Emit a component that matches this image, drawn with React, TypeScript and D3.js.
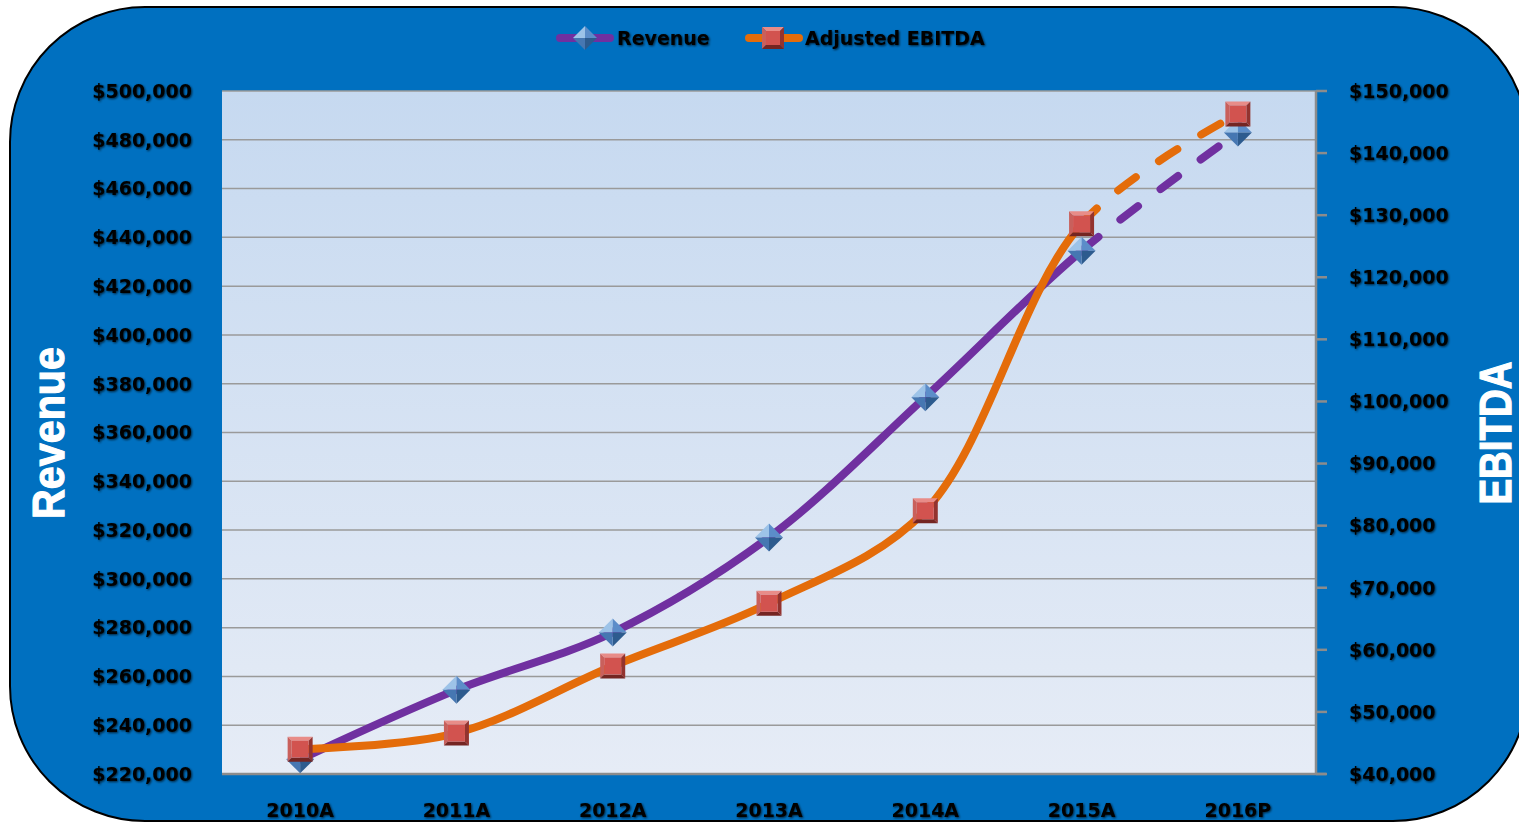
import React, { useEffect, useRef, useState } from 'react'
import * as d3 from 'd3'

const years = ['2010A', '2011A', '2012A', '2013A', '2014A', '2015A', '2016P']
const revenue = [226000, 254500, 278000, 317000, 374500, 434500, 483000]
const ebitda = [44000, 46600, 57400, 67500, 82400, 128600, 146300]
const revenueTicks = [220000, 240000, 260000, 280000, 300000, 320000, 340000, 360000, 380000, 400000, 420000, 440000, 460000, 480000, 500000]
const ebitdaTicks = [40000, 50000, 60000, 70000, 80000, 90000, 100000, 110000, 120000, 130000, 140000, 150000]

const W = 1519
const H = 822
const plot = { left: 222, right: 1316, top: 91, bottom: 774 }
const labelFont = '"DejaVu Sans", Verdana, sans-serif'
const titleFont = '"Liberation Sans", Arial, sans-serif'
const purple = '#7030A0'
const orange = '#E46C0A'

function Diamond({ x, y, h = 14 }: { x: number; y: number; h?: number }) {
  return (
    <g transform={`translate(${x},${y})`}>
      <polygon points={`${-h},0 0,${-h} 0,0`} fill="#9DC3E8" />
      <polygon points={`0,${-h} ${h},0 0,0`} fill="#5C8DC9" />
      <polygon points={`${h},0 0,${h} 0,0`} fill="#2D5B8E" />
      <polygon points={`0,${h} ${-h},0 0,0`} fill="#4677B2" />
    </g>
  )
}

function Square({ x, y, s = 12.5 }: { x: number; y: number; s?: number }) {
  const i = s - 4
  return (
    <g transform={`translate(${x},${y})`}>
      <polygon points={`${-s},${-s} ${s},${-s} ${i},${-i} ${-i},${-i}`} fill="#E88C88" />
      <polygon points={`${-s},${-s} ${-i},${-i} ${-i},${i} ${-s},${s}`} fill="#C9605C" />
      <polygon points={`${s},${-s} ${s},${s} ${i},${i} ${i},${-i}`} fill="#93332F" />
      <polygon points={`${-s},${s} ${-i},${i} ${i},${i} ${s},${s}`} fill="#742522" />
      <rect x={-i} y={-i} width={i * 2} height={i * 2} fill="#D2534F" />
    </g>
  )
}

export default function App() {
  const x = d3.scaleBand<string>().domain(years).range([plot.left, plot.right])
  const yL = d3.scaleLinear().domain([220000, 500000]).range([plot.bottom, plot.top])
  const yR = d3.scaleLinear().domain([40000, 150000]).range([plot.bottom, plot.top])
  const cx = (d: string) => (x(d) as number) + x.bandwidth() / 2
  const fmt = d3.format('$,')

  const revPts: [number, number][] = years.map((d, i) => [cx(d), yL(revenue[i])])
  const ebPts: [number, number][] = years.map((d, i) => [cx(d), yR(ebitda[i])])
  const line = d3.line().curve(d3.curveCatmullRom.alpha(0.5))

  const revHead = useRef<SVGPathElement>(null)
  const ebHead = useRef<SVGPathElement>(null)
  const [offs, setOffs] = useState<[number, number]>([0, 0])
  useEffect(() => {
    if (revHead.current && ebHead.current) {
      setOffs([revHead.current.getTotalLength(), ebHead.current.getTotalLength()])
    }
  }, [])

  const split = cx(years[5])
  const txtShadow = 'url(#txtShadow)'

  return (
    <svg width={W} height={H} style={{ position: 'absolute', left: 0, top: 0 }}>
      <defs>
        <linearGradient id="plotBg" x1="0" y1="0" x2="0" y2="1">
          <stop offset="0" stopColor="#C6D9F0" />
          <stop offset="1" stopColor="#E6ECF6" />
        </linearGradient>
        <clipPath id="solidClip">
          <rect x={0} y={0} width={split} height={H} />
        </clipPath>
        <clipPath id="dashClip">
          <rect x={split} y={0} width={W - split} height={H} />
        </clipPath>
        <filter id="txtShadow" x="-10%" y="-30%" width="120%" height="160%">
          <feDropShadow dx="1" dy="1" stdDeviation="1" floodColor="#000" floodOpacity="0.7" />
        </filter>
      </defs>

      <rect x={10} y={7} width={1518} height={814} rx={135} ry={135} fill="#0070C0" stroke="#000" strokeWidth={2} />

      <rect x={plot.left} y={plot.top} width={plot.right - plot.left} height={plot.bottom - plot.top} fill="url(#plotBg)" />

      {revenueTicks.slice(1).map(t => (
        <line key={t} x1={plot.left} x2={plot.right} y1={yL(t)} y2={yL(t)} stroke="#9A9A9A" strokeWidth={1.5} />
      ))}

      <line x1={plot.left} x2={plot.right + 10} y1={plot.bottom} y2={plot.bottom} stroke="#8C8C8C" strokeWidth={2.5} />
      <line x1={plot.right} x2={plot.right} y1={plot.top} y2={plot.bottom} stroke="#8C8C8C" strokeWidth={2.5} />
      {ebitdaTicks.map(t => (
        <line key={t} x1={plot.right} x2={plot.right + 11} y1={yR(t)} y2={yR(t)} stroke="#8C8C8C" strokeWidth={2.5} />
      ))}

      <g fontFamily={labelFont} fontWeight="bold" fontSize={19} fill="#000" filter={txtShadow}>
        {revenueTicks.map(t => (
          <text key={t} x={192} y={yL(t)} dy="0.36em" textAnchor="end">{fmt(t)}</text>
        ))}
        {ebitdaTicks.map(t => (
          <text key={t} x={1349} y={yR(t)} dy="0.36em">{fmt(t)}</text>
        ))}
        {years.map(d => (
          <text key={d} x={cx(d)} y={810} dy="0.36em" textAnchor="middle">{d}</text>
        ))}
      </g>

      <text transform="translate(64,433) rotate(-90)" textAnchor="middle" fontFamily={titleFont} fontWeight="bold"
        fontSize={45} fill="#fff" stroke="#fff" strokeWidth={1.2} textLength={172} lengthAdjust="spacingAndGlyphs">Revenue</text>
      <text transform="translate(1511,433) rotate(-90)" textAnchor="middle" fontFamily={titleFont} fontWeight="bold"
        fontSize={44} fill="#fff" stroke="#fff" strokeWidth={1.2} textLength={143} lengthAdjust="spacingAndGlyphs">EBITDA</text>

      {/* hidden paths used to measure where the projected part starts */}
      <path ref={revHead} d={line(revPts.slice(0, 6)) || ''} fill="none" stroke="none" />
      <path ref={ebHead} d={line(ebPts.slice(0, 6)) || ''} fill="none" stroke="none" />

      <g fill="none" strokeWidth={8} strokeLinecap="round" strokeLinejoin="round">
        <path d={line(revPts) || ''} stroke={purple} clipPath="url(#solidClip)" />
        <path d={line(revPts) || ''} stroke={purple} clipPath="url(#dashClip)" strokeDasharray="22 28" strokeDashoffset={-offs[0]} />
        <path d={line(ebPts) || ''} stroke={orange} clipPath="url(#solidClip)" />
        <path d={line(ebPts) || ''} stroke={orange} clipPath="url(#dashClip)" strokeDasharray="22 28" strokeDashoffset={-offs[1]} />
      </g>

      {revPts.map((p, i) => <Diamond key={'r' + i} x={p[0]} y={p[1]} />)}
      {ebPts.map((p, i) => <Square key={'e' + i} x={p[0]} y={p[1]} />)}

      <g>
        <line x1={560} x2={610} y1={38} y2={38} stroke={purple} strokeWidth={8} strokeLinecap="round" />
        <Diamond x={585} y={38} h={12} />
        <text x={617} y={38} dy="0.36em" fontFamily={labelFont} fontWeight="bold" fontSize={19} filter={txtShadow}>Revenue</text>
        <line x1={749} x2={799} y1={38} y2={38} stroke={orange} strokeWidth={8} strokeLinecap="round" />
        <Square x={773} y={38} s={11} />
        <text x={805} y={38} dy="0.36em" fontFamily={labelFont} fontWeight="bold" fontSize={19} filter={txtShadow}>Adjusted EBITDA</text>
      </g>
    </svg>
  )
}
